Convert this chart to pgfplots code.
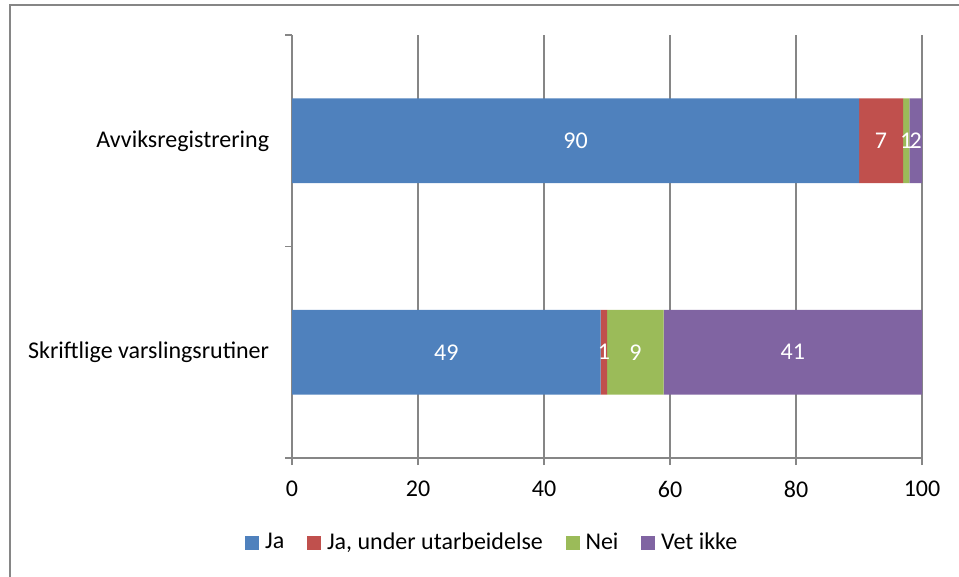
\documentclass[border=0pt]{standalone}
\usepackage{pgfplots}
\pgfplotsset{compat=1.18}
\usepackage{fontspec}
\setmainfont{Carlito}
\definecolor{cJa}{HTML}{4F81BD}
\definecolor{cJu}{HTML}{C0504D}
\definecolor{cNei}{HTML}{9BBB59}
\definecolor{cVet}{HTML}{8064A2}
\definecolor{axgray}{HTML}{868686}
\begin{document}
\fontsize{18}{22}\selectfont
\begin{tikzpicture}
\useasboundingbox (0,0) rectangle (719.25pt,-432.75pt);
\draw[color=axgray, line width=1.1pt] (7.5pt,-440pt) -- (7.5pt,-3.75pt) -- (725pt,-3.75pt);
\begin{axis}[
  at={(219pt,-343.5pt)}, anchor=south west,
  scale only axis, width=472.5pt, height=317.25pt,
  xbar stacked, bar width=0.4,
  xmin=0, xmax=100, ymin=-0.5, ymax=1.5,
  axis lines=left, axis line style={-, draw=axgray, line width=1.1pt},
  tick align=outside,
  xtick={0,20,...,100},
  xmajorgrids, major grid style={draw=axgray, line width=1.1pt},
  ytick={0,1},
  yticklabels={Skriftlige varslingsrutiner, Avviksregistrering},
  minor ytick={-0.5,0.5,1.5},
  major y tick style={draw=none},
  minor y tick style={draw=axgray, line width=1.1pt},
  major x tick style={draw=axgray, line width=1.1pt},
  major tick length=5.25pt, minor tick length=5.25pt,
  yticklabel style={inner sep=0pt, xshift=-11.75pt},
  xticklabel style={yshift=-5.75pt},
  /pgf/number format/assume math mode=true,
  nodes near coords,
  every node near coord/.append style={text=white, font=\fontsize{18}{22}\selectfont},
  legend columns=4,
  legend style={at={(-0.0810,-0.201)}, anchor=west, draw=none, fill=none,
     nodes={inner sep=1.5pt},
     /tikz/every odd column/.append style={column sep=3pt},
     /tikz/every even column/.append style={column sep=15.5pt}},
  legend cell align=left,
  legend image code/.code={\fill[#1] (0pt,-5.25pt) rectangle (10.5pt,5.25pt);},
]
\addplot[fill=cJa, draw=none] coordinates {(49,0) (90,1)};
\addplot[fill=cJu, draw=none] coordinates {(1,0) (7,1)};
\addplot[fill=cNei, draw=none] coordinates {(9,0) (1,1)};
\addplot[fill=cVet, draw=none] coordinates {(41,0) (2,1)};
\legend{Ja, {Ja, under utarbeidelse}, Nei, Vet ikke}
\end{axis}
\end{tikzpicture}
\end{document}
